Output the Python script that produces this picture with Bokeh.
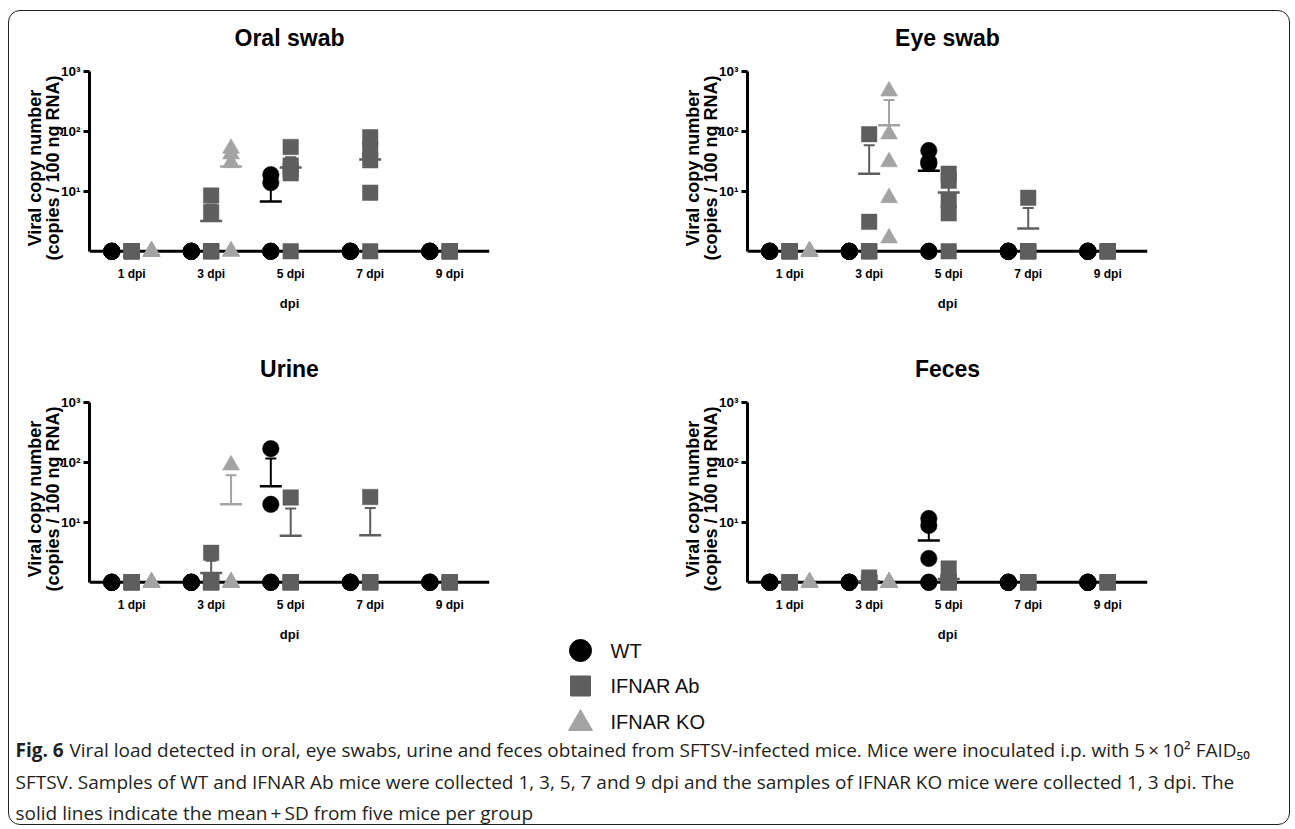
from bokeh.plotting import figure
from bokeh.layouts import column, row
from bokeh.models import ColumnDataSource, Range1d, FixedTicker, Span, Whisker, TeeHead
from bokeh.core.properties import value
from bokeh.embed import file_html
from bokeh.resources import INLINE

# ---------------- data ----------------
dpi_labels = ["1 dpi", "3 dpi", "5 dpi", "7 dpi", "9 dpi"]
group_names = ["WT", "IFNAR Ab", "IFNAR KO"]
group_colors = ["#000000", "#5e5e5e", "#a3a3a3"]
group_markers = ["circle", "square", "triangle"]
y_tick_values = [10, 100, 1000]
y_tick_labels = ["10\u00b9", "10\u00b2", "10\u00b3"]

# individual mice per dpi (value 1 = not detected, drawn on the axis)
oral_wt = [[1, 1, 1, 1, 1], [1, 1, 1, 1, 1], [19, 14, 1, 1, 1], [1, 1, 1, 1, 1], [1, 1, 1, 1, 1]]
oral_ab = [[1, 1, 1, 1, 1], [8.5, 4.5, 1, 1, 1], [55, 27, 23, 20, 1], [80, 50, 33, 9.5, 1], [1, 1, 1, 1, 1]]
oral_ko = [[1, 1, 1, 1, 1], [52, 42, 30, 1, 1]]
oral_wt_mean = [1, 1, 6.8, 1, 1]
oral_wt_top = [1, 1, 15, 1, 1]
oral_ab_mean = [1, 3.2, 25, 34, 1]
oral_ab_top = [1, 6, 37, 66, 1]
oral_ko_mean = [1, 26]
oral_ko_top = [1, 49]

eye_wt = [[1, 1, 1, 1, 1], [1, 1, 1, 1, 1], [48, 31, 29, 1, 1], [1, 1, 1, 1, 1], [1, 1, 1, 1, 1]]
eye_ab = [[1, 1, 1, 1, 1], [90, 3.1, 1, 1, 1], [19.7, 15, 7.1, 4.3, 1], [7.8, 1, 1, 1, 1], [1, 1, 1, 1, 1]]
eye_ko = [[1, 1, 1, 1, 1], [470, 90, 31, 7.8, 1.66]]
eye_wt_mean = [1, 1, 22, 1, 1]
eye_wt_top = [1, 1, 42, 1, 1]
eye_ab_mean = [1, 19.7, 9.6, 2.4, 1]
eye_ab_top = [1, 59, 17, 5.3, 1]
eye_ko_mean = [1, 127]
eye_ko_top = [1, 333]

urine_wt = [[1, 1, 1, 1, 1], [1, 1, 1, 1, 1], [170, 20, 1, 1, 1], [1, 1, 1, 1, 1], [1, 1, 1, 1, 1]]
urine_ab = [[1, 1, 1, 1, 1], [3.1, 1, 1, 1, 1], [26, 1, 1, 1, 1], [26.5, 1, 1, 1, 1], [1, 1, 1, 1, 1]]
urine_ko = [[1, 1, 1, 1, 1], [90, 1, 1, 1, 1]]
urine_wt_mean = [1, 1, 40, 1, 1]
urine_wt_top = [1, 1, 116, 1, 1]
urine_ab_mean = [1, 1.43, 6.0, 6.1, 1]
urine_ab_top = [1, 2.3, 17, 17.4, 1]
urine_ko_mean = [1, 20]
urine_ko_top = [1, 61]

feces_wt = [[1, 1, 1, 1, 1], [1, 1, 1, 1, 1], [11.6, 8.9, 2.5, 1, 1], [1, 1, 1, 1, 1], [1, 1, 1, 1, 1]]
feces_ab = [[1, 1, 1, 1, 1], [1.2, 1, 1, 1, 1], [1.7, 1, 1, 1, 1], [1, 1, 1, 1, 1], [1, 1, 1, 1, 1]]
feces_ko = [[1, 1, 1, 1, 1], [1, 1, 1, 1, 1]]
feces_wt_mean = [1, 1, 5.0, 1, 1]
feces_wt_top = [1, 1, 9.8, 1, 1]
feces_ab_mean = [1, 1.04, 1.14, 1, 1]
feces_ab_top = [1, 1.13, 1.45, 1, 1]
feces_ko_mean = [1, 1]
feces_ko_top = [1, 1]

caption_bold = "Fig. 6"
caption_lines = [
    "Viral load detected in oral, eye swabs, urine and feces obtained from SFTSV-infected mice. Mice were inoculated i.p. with 5\u2009\u00d7\u200910\u00b2 FAID\u2085\u2080",
    "SFTSV. Samples of WT and IFNAR Ab mice were collected 1, 3, 5, 7 and 9 dpi and the samples of IFNAR KO mice were collected 1, 3 dpi. The",
    "solid lines indicate the mean\u2009+\u2009SD from five mice per group",
]

# ---------------- styling constants ----------------
FONT = "Liberation Sans"
OFFSETS = [-0.25, 0.0, 0.25]
MARKER_SIZES = [16.5, 15.5, 17]


def make_panel(title, groups, means, tops, mb_left, mb_right, mb_top, mb_bottom):
    p = figure(frame_width=400, frame_height=193,
               x_range=Range1d(-0.53, 4.5), y_range=Range1d(10 ** -0.22, 1000),
               y_axis_type="log", output_backend="svg", toolbar_location=None,
               min_border_left=mb_left, min_border_right=mb_right,
               min_border_top=mb_top, min_border_bottom=mb_bottom,
               title=title)
    p.outline_line_color = None
    p.xgrid.visible = False
    p.ygrid.visible = False
    p.background_fill_color = "white"
    p.border_fill_alpha = 0

    p.title.text_font = FONT
    p.title.text_font_size = "23px"
    p.title.text_font_style = "bold"
    p.title.align = "center"
    p.title.text_color = "black"
    p.title.standoff = 42

    # baseline (x axis line at the limit of detection)
    p.add_layout(Span(location=1, dimension="width", line_color="black",
                      line_width=3, level="underlay"))

    # y axis
    ya = p.yaxis[0]
    ya.ticker = FixedTicker(ticks=y_tick_values)
    ya.major_label_overrides = dict(zip(y_tick_values, y_tick_labels))
    ya.bounds = (1, 1000)
    ya.axis_line_width = 3
    ya.axis_line_color = "black"
    ya.major_tick_line_width = 3
    ya.major_tick_out = 6
    ya.major_tick_in = 0
    ya.minor_tick_out = 0
    ya.minor_tick_in = 0
    ya.major_label_text_font = FONT
    ya.major_label_text_font_size = "13.5px"
    ya.major_label_text_font_style = "bold"
    ya.major_label_text_color = "black"
    ya.major_label_standoff = 3
    ya.axis_label = "Viral copy number\n(copies / 100 ng RNA)"
    ya.axis_label_text_font = FONT
    ya.axis_label_text_font_size = "18px"
    ya.axis_label_text_font_style = "bold"
    ya.axis_label_text_color = "black"
    ya.axis_label_text_line_height = 0.92
    ya.axis_label_standoff = -5

    # x axis
    xa = p.xaxis[0]
    xa.ticker = FixedTicker(ticks=list(range(len(dpi_labels))))
    xa.major_label_overrides = {i: lab for i, lab in enumerate(dpi_labels)}
    xa.axis_line_color = None
    xa.major_tick_line_color = None
    xa.minor_tick_line_color = None
    xa.major_tick_out = 0
    xa.major_tick_in = 0
    xa.major_label_standoff = 2
    xa.major_label_text_font = FONT
    xa.major_label_text_font_size = "12px"
    xa.major_label_text_font_style = "bold"
    xa.major_label_text_color = "black"
    xa.axis_label = "dpi"
    xa.axis_label_text_font = FONT
    xa.axis_label_text_font_size = "13px"
    xa.axis_label_text_font_style = "bold"
    xa.axis_label_text_color = "black"
    xa.axis_label_standoff = 12

    for g, data in enumerate(groups):
        xs, ys = [], []
        for i, vals in enumerate(data):
            for v in vals:
                xs.append(i + OFFSETS[g])
                ys.append(v)
        p.scatter(x=xs, y=ys, marker=group_markers[g], size=MARKER_SIZES[g],
                  fill_color=group_colors[g], line_color=group_colors[g], line_width=0.5)

    for g in range(len(groups)):
        bx, bm, bt = [], [], []
        for i, (m, t) in enumerate(zip(means[g], tops[g])):
            if m > 1:
                bx.append(i + OFFSETS[g])
                bm.append(m)
                bt.append(t)
        if bx:
            src = ColumnDataSource(dict(x=bx, mean=bm, top=bt))
            c = group_colors[g]
            w = Whisker(source=src, base="x", lower="mean", upper="top", dimension="height",
                        line_color=c, line_width=2,
                        lower_head=TeeHead(size=22, line_color=c, line_width=2.5),
                        upper_head=TeeHead(size=11, line_color=c, line_width=2))
            p.add_layout(w)
    return p


p_oral = make_panel("Oral swab", [oral_wt, oral_ab, oral_ko],
                    [oral_wt_mean, oral_ab_mean, oral_ko_mean],
                    [oral_wt_top, oral_ab_top, oral_ko_top], 80, 151, 70, 58)
p_eye = make_panel("Eye swab", [eye_wt, eye_ab, eye_ko],
                   [eye_wt_mean, eye_ab_mean, eye_ko_mean],
                   [eye_wt_top, eye_ab_top, eye_ko_top], 107, 142, 70, 58)
p_urine = make_panel("Urine", [urine_wt, urine_ab, urine_ko],
                     [urine_wt_mean, urine_ab_mean, urine_ko_mean],
                     [urine_wt_top, urine_ab_top, urine_ko_top], 80, 151, 80, 30)
p_feces = make_panel("Feces", [feces_wt, feces_ab, feces_ko],
                     [feces_wt_mean, feces_ab_mean, feces_ko_mean],
                     [feces_wt_top, feces_ab_top, feces_ko_top], 107, 142, 80, 30)

# ---------------- legend + caption (one transparent strip) ----------------
W, H = 1280, 188
p_bot = figure(width=W, height=H, x_range=Range1d(0, W), y_range=Range1d(H, 0),
               output_backend="svg", toolbar_location=None, min_border=0,
               margin=(-8, 0, 0, 0))
p_bot.axis.visible = False
p_bot.grid.visible = False
p_bot.outline_line_color = None
p_bot.background_fill_alpha = 0
p_bot.border_fill_alpha = 0

leg_x = 571
leg_y = [14 + 35.5 * i for i in range(len(group_names))]
leg_sizes = [22, 20, 24]
for i, name in enumerate(group_names):
    p_bot.scatter(x=[leg_x], y=[leg_y[i] + (2 if group_markers[i] == "triangle" else 0)],
                  marker=group_markers[i], size=leg_sizes[i],
                  fill_color=group_colors[i], line_color=group_colors[i])
p_bot.text(x=[leg_x + 30] * len(group_names), y=leg_y, text=group_names,
           text_font=value(FONT), text_font_size="20px", text_baseline="middle",
           text_align="left", text_color="#111111")

cap_y = [113, 145, 176]
CAP_SIZE = "19px"
p_bot.text(x=[6], y=[cap_y[0]], text=[caption_bold], text_font=value("Open Sans"),
           text_font_size=CAP_SIZE, text_font_style="bold", text_baseline="middle",
           text_color="#231f20")
p_bot.text(x=[60, 6, 6], y=cap_y, text=caption_lines, text_font=value("Open Sans"),
           text_font_size=CAP_SIZE, text_baseline="middle", text_color="#231f20")

root = column(row(p_oral, p_eye, spacing=0, margin=(-10, 0, 0, 0)),
              row(p_urine, p_feces, spacing=0), p_bot,
              spacing=0,
              styles={"border": "1.5px solid #222222", "border-radius": "12px",
                      "margin-left": "8px", "margin-top": "10px", "background": "white"})

open("out.html", "w").write(file_html(root, INLINE))
